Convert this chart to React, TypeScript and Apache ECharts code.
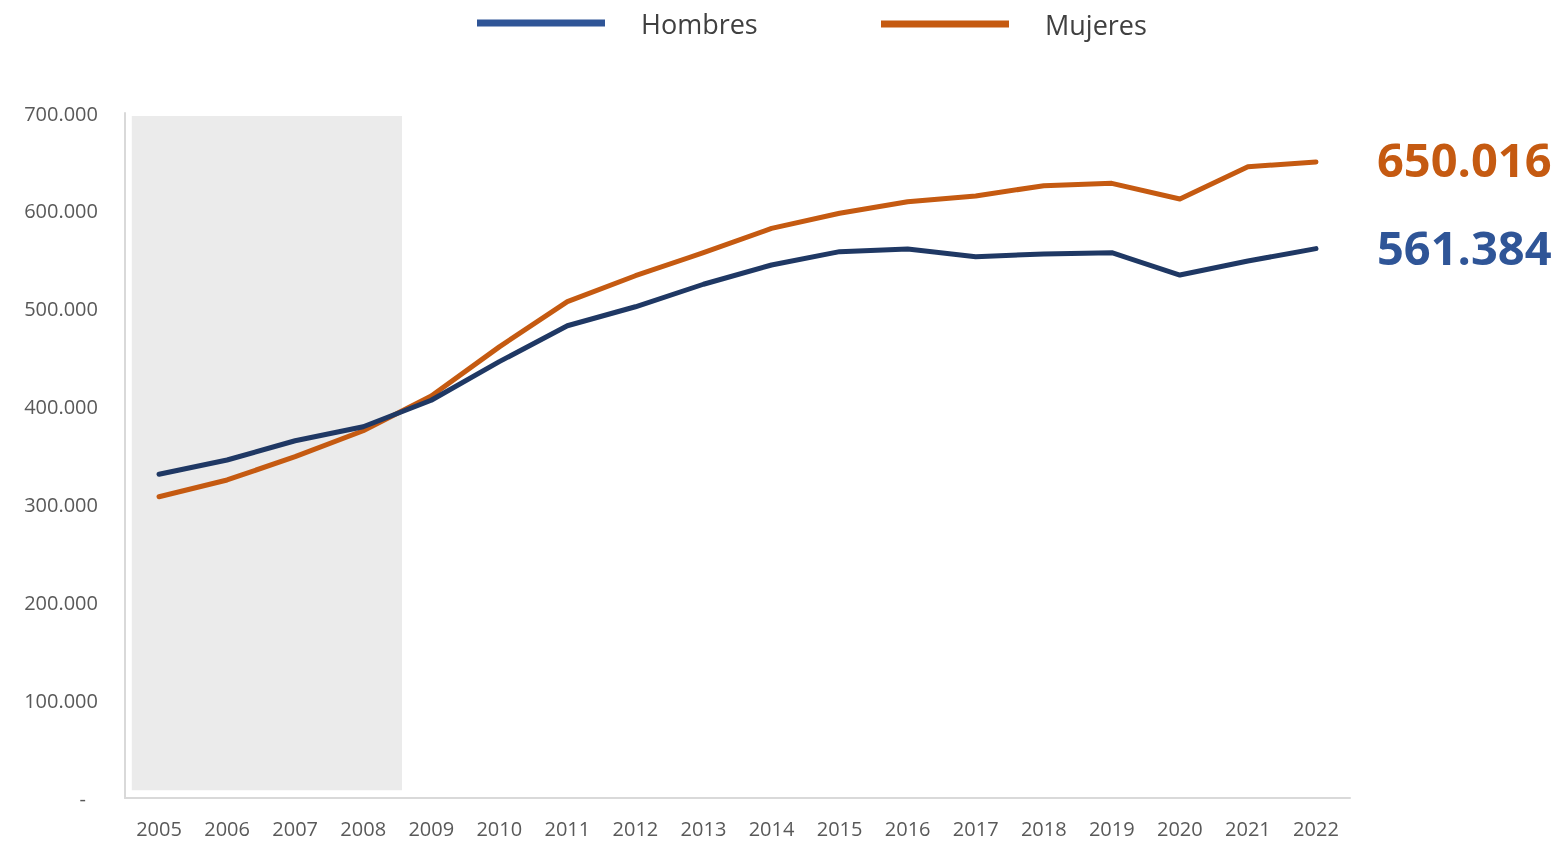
import React, { useEffect, useRef } from "react";
import * as echarts from "echarts";

const years = ["2005","2006","2007","2008","2009","2010","2011","2012","2013","2014","2015","2016","2017","2018","2019","2020","2021","2022"];
const hombres = [330800, 345400, 365100, 379400, 406500, 445900, 482600, 502000, 525000, 544700, 558300, 561000, 553200, 555900, 557200, 534400, 548700, 561384];
const mujeres = [307900, 325000, 348800, 375300, 410800, 461000, 507200, 533700, 557200, 582100, 597500, 609300, 615200, 625700, 628100, 612100, 645100, 650016];
const yTicks = [0, 100000, 200000, 300000, 400000, 500000, 600000, 700000];
const crisisRange = [-0.4, 3.57];

const fmt = (v: number) => {
  if (v === 0) return "-";
  return Math.round(v).toString().replace(/\B(?=(\d{3})+(?!\d))/g, ".");
};

export default function App() {
  const ref = useRef<HTMLDivElement>(null);
  useEffect(() => {
    if (!ref.current) return;
    const chart = echarts.init(ref.current, null, { renderer: "svg" });
    const legendText = { fontFamily: "Open Sans", fontSize: 27, color: "#404040", padding: [0, 0, 0, 31], lineHeight: 30 };
    chart.setOption({
      animation: false,
      textStyle: { fontFamily: "Open Sans" },
      legend: [
        { left: 472, top: 3, icon: "rect", itemWidth: 128, itemHeight: 7, selectedMode: false,
          data: [{ name: "Hombres", itemStyle: { color: "#2F5597" } }], textStyle: legendText },
        { left: 876, top: 4, icon: "rect", itemWidth: 128, itemHeight: 7, selectedMode: false,
          data: [{ name: "Mujeres", itemStyle: { color: "#C55A11" } }], textStyle: legendText },
      ],
      grid: { left: 125, right: 206, top: 113, bottom: 43, containLabel: false },
      xAxis: [
        {
          type: "category",
          data: years,
          boundaryGap: true,
          axisLine: { show: true, onZero: false, lineStyle: { color: "#d9d9d9", width: 2 } },
          axisTick: { show: false },
          axisLabel: { color: "#595959", fontSize: 20, margin: 20, fontFamily: "Open Sans" },
        },
        {
          type: "value",
          min: -0.5,
          max: years.length - 0.5,
          show: false,
          splitLine: { show: false },
        },
      ],
      yAxis: {
        type: "value",
        min: yTicks[0],
        max: yTicks[yTicks.length - 1],
        interval: 100000,
        splitLine: { show: false },
        axisLine: { show: true, onZero: false, lineStyle: { color: "#d9d9d9", width: 2 } },
        axisTick: { show: false },
        axisLabel: {
          color: "#595959",
          fontSize: 20,
          margin: 27,
          fontFamily: "Open Sans",
          formatter: (v: number) => (v === 0 ? "{d|-}" : fmt(v)),
          rich: { d: { color: "#595959", fontSize: 20, fontFamily: "Open Sans", padding: [0, 12, 0, 0] } },
        },
      },
      series: [
        {
          name: "crisis",
          type: "line",
          xAxisIndex: 1,
          data: [],
          silent: true,
          z: 1,
          markArea: {
            silent: true,
            itemStyle: { color: "#ebebeb" },
            data: [[{ xAxis: crisisRange[0], yAxis: 8000 }, { xAxis: crisisRange[1], yAxis: 697000 }]],
          },
        },
        {
          name: "Hombres",
          type: "line",
          data: hombres,
          showSymbol: false,
          symbol: "none",
          z: 3,
          lineStyle: { color: "#1F3864", width: 5, cap: "round", join: "round" },
          itemStyle: { color: "#1F3864" },
          endLabel: {
            show: true,
            distance: 61,
            formatter: (p: any) => fmt(p.value),
            color: "#2F5597",
            fontSize: 47,
            fontWeight: "bold",
            fontFamily: "Open Sans",
            verticalAlign: "middle",
            offset: [0, -2],
          },
        },
        {
          name: "Mujeres",
          type: "line",
          data: mujeres,
          showSymbol: false,
          symbol: "none",
          z: 2,
          lineStyle: { color: "#C55A11", width: 5, cap: "round", join: "round" },
          itemStyle: { color: "#C55A11" },
          endLabel: {
            show: true,
            distance: 61,
            formatter: (p: any) => fmt(p.value),
            color: "#C55A11",
            fontSize: 47,
            fontWeight: "bold",
            fontFamily: "Open Sans",
            verticalAlign: "middle",
            offset: [0, -3],
          },
        },
      ],
    });
    return () => chart.dispose();
  }, []);
  return <div ref={ref} style={{ position: "fixed", left: 0, top: 0, width: 1556, height: 841 }} />;
}
